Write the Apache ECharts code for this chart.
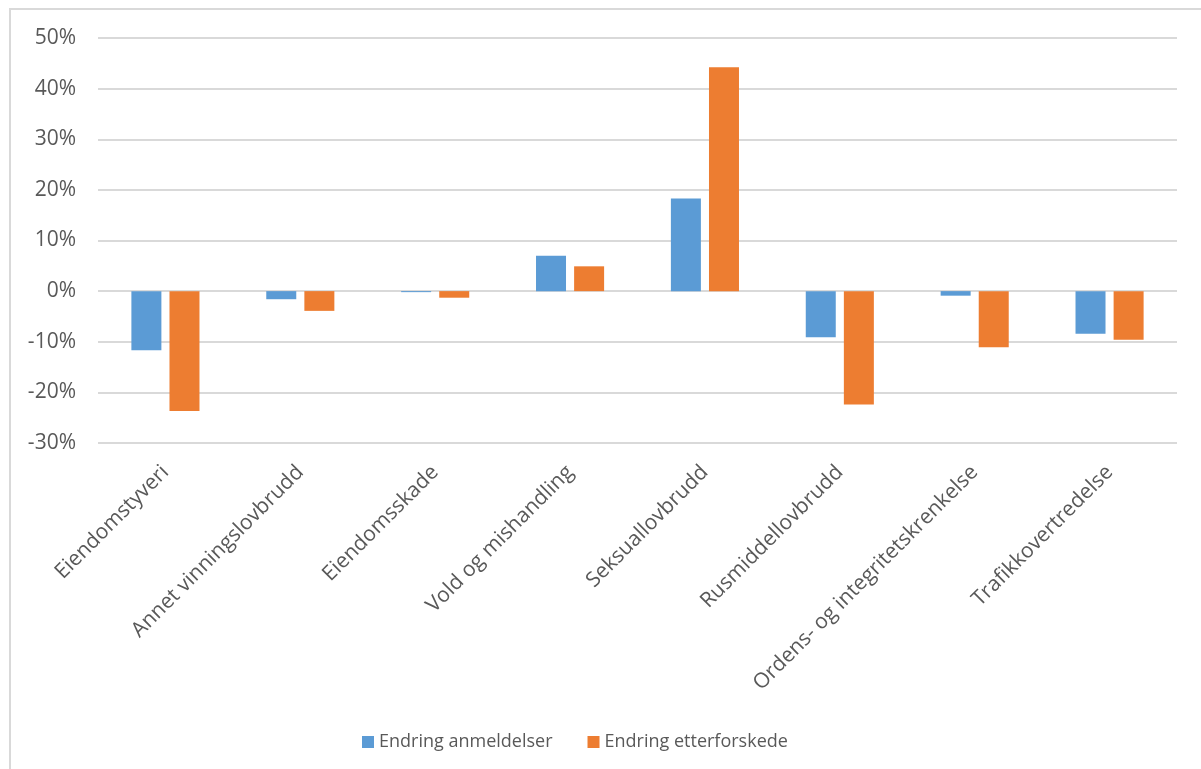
<!DOCTYPE html>
<html>
<head>
<meta charset="utf-8">
<script src="https://cdn.jsdelivr.net/npm/echarts@6/dist/echarts.min.js"></script>
<style>
  html, body { margin: 0; padding: 0; background: #fff; }
  #chart { width: 1201px; height: 769px; }
</style>
</head>
<body>
<div id="chart"></div>
<script>
// Offence categories along the x axis
const categories = [
  'Eiendomstyveri',
  'Annet vinningslovbrudd',
  'Eiendomsskade',
  'Vold og mishandling',
  'Seksuallovbrudd',
  'Rusmiddellovbrudd',
  'Ordens- og integritetskrenkelse',
  'Trafikkovertredelse'
];

// Percentage change per category
const endringAnmeldelser = [-11.7, -1.6, -0.2, 7.0, 18.3, -9.1, -0.9, -8.4];
const endringEtterforskede = [-23.7, -3.9, -1.3, 4.9, 44.2, -22.4, -11.1, -9.6];

const seriesNames = ['Endring anmeldelser', 'Endring etterforskede'];

// Value axis range and step (percent)
const yMin = -30;
const yMax = 50;
const yStep = 10;

const textColor = '#595959';
const fontFamily = '"Open Sans", "Noto Sans", sans-serif';

const chart = echarts.init(document.getElementById('chart'));

chart.setOption({
  animation: false,
  backgroundColor: '#ffffff',
  textStyle: { fontFamily: fontFamily },
  graphic: [{
    type: 'rect',
    silent: true,
    shape: { x: 10, y: 9, width: 1200, height: 770 },
    style: { fill: 'none', stroke: '#d9d9d9', lineWidth: 2 }
  }],
  grid: {
    left: 98,
    right: 24,
    top: 38,
    bottom: 326,
    containLabel: false
  },
  legend: {
    bottom: 13,
    left: 357,
    itemWidth: 12,
    itemHeight: 12,
    itemGap: 35,
    icon: 'rect',
    textStyle: { color: textColor, fontSize: 18, fontFamily: fontFamily },
    data: seriesNames
  },
  xAxis: {
    type: 'category',
    data: categories,
    axisLine: { show: false },
    axisTick: { show: false },
    axisLabel: {
      rotate: 45,
      interval: 0,
      margin: 26,
      color: textColor,
      fontSize: 21,
      fontFamily: fontFamily
    }
  },
  yAxis: {
    type: 'value',
    min: yMin,
    max: yMax,
    interval: yStep,
    axisLine: { show: false },
    axisTick: { show: false },
    axisLabel: {
      formatter: '{value}%',
      color: textColor,
      fontSize: 21,
      margin: 22,
      fontFamily: fontFamily
    },
    splitLine: { lineStyle: { color: '#d9d9d9', width: 2 } }
  },
  series: [
    {
      name: seriesNames[0],
      type: 'bar',
      data: endringAnmeldelser,
      barWidth: 30,
      barGap: '27%',
      itemStyle: { color: '#5b9bd5' }
    },
    {
      name: seriesNames[1],
      type: 'bar',
      data: endringEtterforskede,
      barWidth: 30,
      barGap: '27%',
      itemStyle: { color: '#ed7d31' }
    }
  ]
});
</script>
</body>
</html>
